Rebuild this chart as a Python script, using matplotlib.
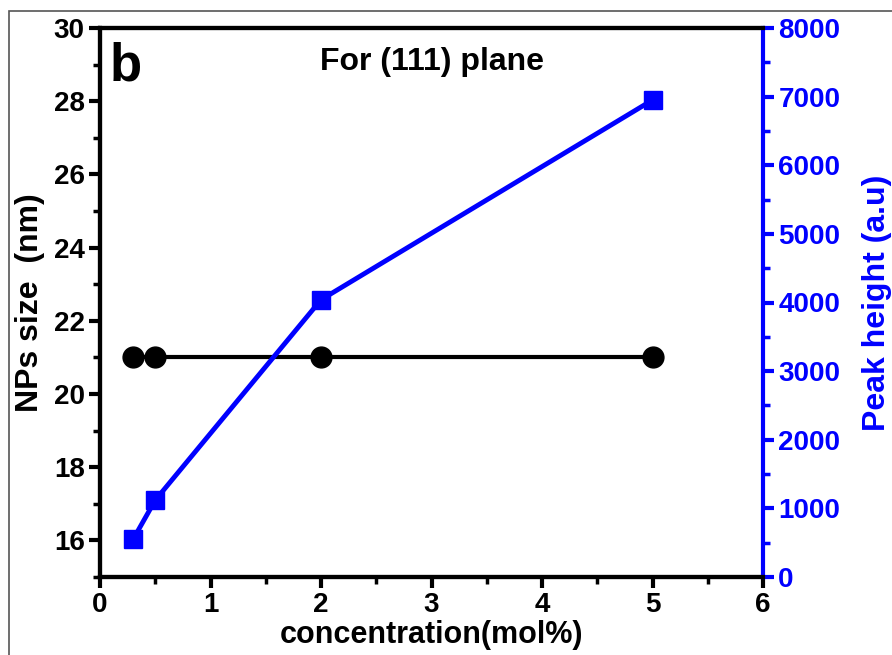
import matplotlib
matplotlib.use("Agg")
from matplotlib import pyplot as plt
from matplotlib.patches import Rectangle
from matplotlib.ticker import MultipleLocator

plt.rcParams['font.family'] = ['Liberation Sans', 'DejaVu Sans']
plt.rcParams['font.weight'] = 'bold'

# concentration (mol%)
concentration = [0.3, 0.5, 2, 5]
npSize = [21, 21, 21, 21]
peakHeight = [550, 1120, 4040, 6950]

fig = plt.figure(figsize=(8.92, 6.55), dpi=100)
fig.patches.append(Rectangle((9 / 892, -0.1), 2.0, 1 - 11 / 655 + 0.1, transform=fig.transFigure,
                             fill=False, edgecolor='#555555', linewidth=1.2))
ax = fig.add_axes([100 / 892, 78 / 655, 663 / 892, 549 / 655])
ax2 = ax.twinx()

ax.plot(concentration, npSize, color='black', linewidth=3, marker='o', markersize=15, zorder=3)
ax2.plot(concentration, peakHeight, color='#0000ff', linewidth=3.5, marker='s', markersize=13, zorder=3)

ax.set_xlim(0, 6)
ax.set_ylim(15, 30)
ax2.set_ylim(0, 8000)
ax.xaxis.set_major_locator(MultipleLocator(1))
ax.xaxis.set_minor_locator(MultipleLocator(0.5))
ax.yaxis.set_minor_locator(MultipleLocator(1))
ax2.yaxis.set_major_locator(MultipleLocator(1000))
ax2.yaxis.set_minor_locator(MultipleLocator(500))
ax.set_yticks([16, 18, 20, 22, 24, 26, 28, 30])

for side in ['left', 'bottom', 'top']:
    ax2.spines[side].set_linewidth(3)
    ax.spines[side].set_linewidth(3)
ax2.spines['right'].set_linewidth(3)
ax2.spines['right'].set_color('#0000ff')
ax.spines['right'].set_visible(False)

ax.tick_params(axis='both', which='major', length=8, width=3, labelsize=20, pad=3)
ax.tick_params(axis='both', which='minor', length=5, width=2.5)
ax2.tick_params(axis='y', which='major', length=8, width=3, labelsize=20, colors='#0000ff', pad=3)
ax2.tick_params(axis='y', which='minor', length=5, width=2.5, colors='#0000ff')

ax.set_ylabel('NPs size  (nm)', fontsize=23, fontweight='bold', labelpad=6)
ax.set_xlabel('concentration(mol%)', fontsize=22, fontweight='bold', labelpad=1)
ax2.set_ylabel('Peak height (a.u)', fontsize=23, fontweight='bold', color='#0000ff', labelpad=16)

ax.text(0.015, 0.975, 'b', transform=ax.transAxes, fontsize=38, fontweight='bold', va='top', ha='left')
ax.text(0.5, 0.965, 'For (111) plane', transform=ax.transAxes, fontsize=23, fontweight='bold', va='top', ha='center')

fig.savefig('out.png', dpi=100)
